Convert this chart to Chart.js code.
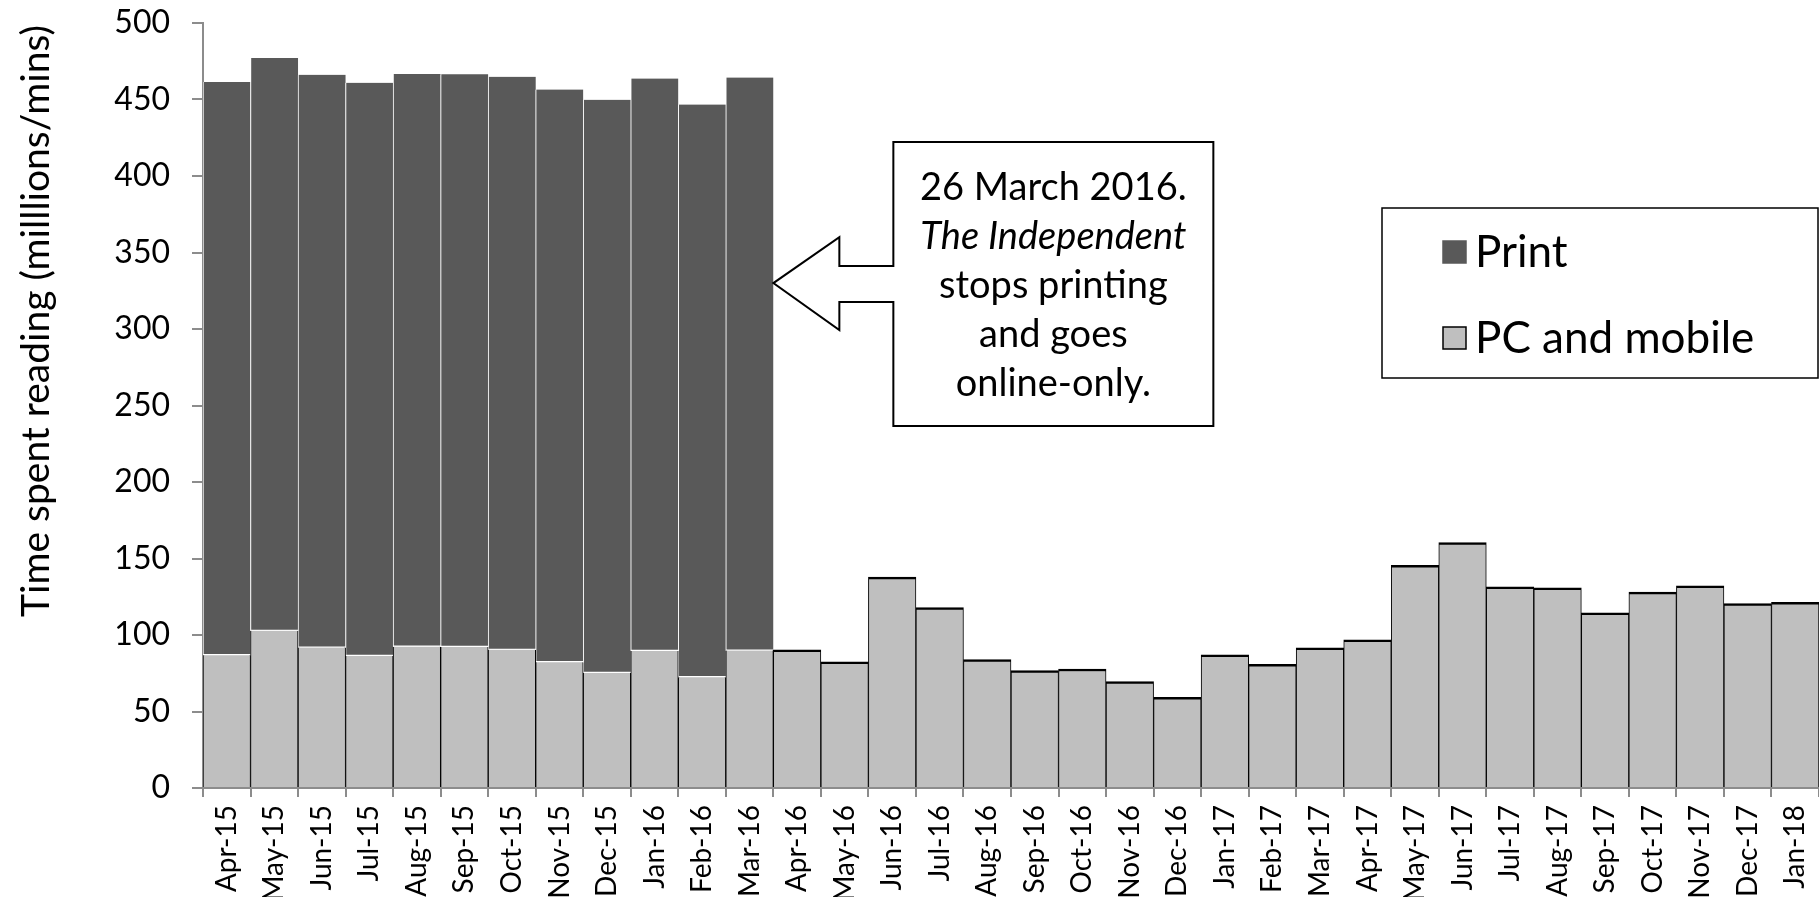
<!DOCTYPE html>
<html>
<head>
<meta charset="utf-8">
<script src="https://cdn.jsdelivr.net/npm/chart.js@4.4.1/dist/chart.umd.min.js"></script>
<style>
  html, body { margin: 0; padding: 0; background: #fff; overflow: hidden; }
  #wrap { width: 1819px; height: 897px; position: relative; }
</style>
</head>
<body>
<div id="wrap"><canvas id="c" width="1819" height="897"></canvas></div>
<script>
// Monthly time spent reading The Independent, millions of minutes
const months = [
  'Apr-15','May-15','Jun-15','Jul-15','Aug-15','Sep-15','Oct-15','Nov-15','Dec-15',
  'Jan-16','Feb-16','Mar-16','Apr-16','May-16','Jun-16','Jul-16','Aug-16','Sep-16',
  'Oct-16','Nov-16','Dec-16','Jan-17','Feb-17','Mar-17','Apr-17','May-17','Jun-17',
  'Jul-17','Aug-17','Sep-17','Oct-17','Nov-17','Dec-17','Jan-18'
];
const printMins = [
  374.7, 374.5, 374.3, 374.6, 374.3, 374.3, 374.5, 374.3, 374.6, 374.1, 374.3, 374.6,
  null, null, null, null, null, null, null, null, null, null, null,
  null, null, null, null, null, null, null, null, null, null, null
];
const pcMobileMins = [
  86.8, 102.7, 91.8, 86.3, 92.4, 92.2, 90.3, 82.2, 75.2, 89.6, 72.4, 89.8,
  90.3, 82.4, 137.8, 118.0, 83.9, 76.7, 77.8, 69.5, 59.3, 87.0, 80.9,
  91.6, 96.8, 145.6, 160.4, 131.5, 130.8, 114.5, 128.0, 132.1, 120.5, 121.4
];
const seriesNames = ['Print', 'PC and mobile'];
const yAxisTitle = 'Time spent reading (milllions/mins)';
const noteLines = ['26 March 2016.', 'The Independent', 'stops printing', 'and goes', 'online-only.'];
// the month the print edition ended, and the level the callout points at
const lastPrintIndex = 11;
const calloutValue = 330;

const FONT = 'Lato, "Open Sans", sans-serif';
const DARK = '#595959';
const LIGHT = '#bfbfbf';
const AXIS = '#8c8c8c';

// axis title, callout and legend drawn over the finished chart
const decor = {
  id: 'decor',
  afterDraw(chart) {
    const ctx = chart.ctx;
    const xs = chart.scales.x, ys = chart.scales.y;

    // vertical axis title
    ctx.save();
    ctx.translate(36, 321);
    ctx.rotate(-Math.PI / 2);
    ctx.fillStyle = '#000';
    ctx.font = '39px ' + FONT;
    ctx.textAlign = 'center';
    ctx.textBaseline = 'middle';
    ctx.fillText(yAxisTitle, 0, 0);
    ctx.restore();

    // callout with arrow pointing at the last print month
    const half = (xs.getPixelForValue(1) - xs.getPixelForValue(0)) / 2;
    const tipX = xs.getPixelForValue(lastPrintIndex) + half;
    const tipY = ys.getPixelForValue(calloutValue);
    const headX = tipX + 66, boxL = tipX + 120, boxR = boxL + 320;
    const boxT = tipY - 141, boxB = tipY + 143;
    ctx.save();
    ctx.beginPath();
    ctx.moveTo(boxL, boxT);
    ctx.lineTo(boxR, boxT);
    ctx.lineTo(boxR, boxB);
    ctx.lineTo(boxL, boxB);
    ctx.lineTo(boxL, tipY + 19);
    ctx.lineTo(headX, tipY + 19);
    ctx.lineTo(headX, tipY + 47);
    ctx.lineTo(tipX, tipY);
    ctx.lineTo(headX, tipY - 46);
    ctx.lineTo(headX, tipY - 17);
    ctx.lineTo(boxL, tipY - 17);
    ctx.closePath();
    ctx.fillStyle = '#fff';
    ctx.fill();
    ctx.lineWidth = 2;
    ctx.strokeStyle = '#000';
    ctx.lineJoin = 'miter';
    ctx.stroke();
    ctx.fillStyle = '#000';
    ctx.textAlign = 'center';
    ctx.textBaseline = 'alphabetic';
    const cx = (boxL + boxR) / 2;
    noteLines.forEach((line, i) => {
      ctx.font = (i === 1 ? 'italic ' : '') + '38px ' + FONT;
      ctx.fillText(line, cx, boxT + 58 + i * 49);
    });
    ctx.restore();

    // legend box
    const lx = 1382, ly = 208, lw = 436, lh = 170;
    ctx.save();
    ctx.fillStyle = '#fff';
    ctx.fillRect(lx, ly, lw, lh);
    ctx.lineWidth = 1.5;
    ctx.strokeStyle = '#000';
    ctx.strokeRect(lx, ly, lw, lh);
    const items = [
      { name: chart.data.datasets[1].label, fill: DARK, stroke: DARK, y: 252 },
      { name: chart.data.datasets[0].label, fill: LIGHT, stroke: '#000', y: 338 }
    ];
    ctx.font = '44px ' + FONT;
    ctx.textAlign = 'left';
    ctx.textBaseline = 'middle';
    items.forEach(it => {
      ctx.fillStyle = it.fill;
      ctx.fillRect(1443, it.y - 11, 23, 22);
      ctx.lineWidth = 1.5;
      ctx.strokeStyle = it.stroke;
      ctx.strokeRect(1443, it.y - 11, 23, 22);
      ctx.fillStyle = '#000';
      ctx.fillText(it.name, 1475, it.y + 1);
    });
    ctx.restore();
  }
};

new Chart(document.getElementById('c'), {
  type: 'bar',
  data: {
    labels: months,
    datasets: [
      {
        label: seriesNames[1],
        data: pcMobileMins,
        backgroundColor: LIGHT,
        borderColor: '#000',
        borderSkipped: false,
        borderWidth: (c) => ({
          left: 1, right: 1, bottom: 0,
          top: printMins[c.dataIndex] ? 0 : 2.5
        })
      },
      {
        label: seriesNames[0],
        data: printMins,
        backgroundColor: DARK,
        borderColor: '#fff',
        borderSkipped: false,
        borderWidth: { left: 1, right: 0, top: 0, bottom: 1.5 }
      }
    ]
  },
  options: {
    responsive: false,
    devicePixelRatio: 1,
    animation: false,
    layout: { padding: { top: 23, right: 0, left: 0, bottom: 0 } },
    datasets: { bar: { categoryPercentage: 1, barPercentage: 1 } },
    plugins: { legend: { display: false }, tooltip: { enabled: false } },
    scales: {
      x: {
        stacked: true,
        grid: { display: true, drawOnChartArea: false, color: AXIS, tickLength: 9, lineWidth: 2 },
        border: { display: true, color: AXIS, width: 2 },
        ticks: {
          color: '#000',
          font: { family: FONT, size: 28 },
          minRotation: 90, maxRotation: 90,
          autoSkip: false,
          padding: 8
        },
        afterFit(scale) {
          scale.height = 109;
          scale.paddingLeft = 0;
          scale.paddingRight = 0;
        }
      },
      y: {
        stacked: true,
        min: 0, max: 500,
        grid: { display: true, drawOnChartArea: false, color: AXIS, tickLength: 11, lineWidth: 2 },
        border: { display: true, color: AXIS, width: 2 },
        ticks: {
          stepSize: 50,
          color: '#000',
          font: { family: FONT, size: 32 },
          padding: 22
        },
        afterFit(scale) {
          scale.width = 203;
          scale.paddingTop = 0;
          scale.paddingBottom = 0;
        }
      }
    }
  },
  plugins: [decor]
});
</script>
</body>
</html>
